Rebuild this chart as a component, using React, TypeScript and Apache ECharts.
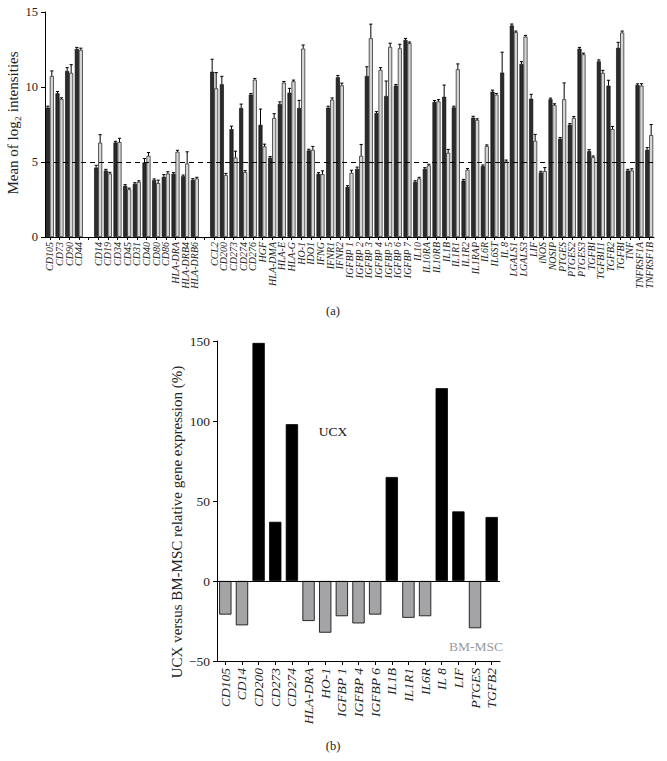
import React, { useEffect, useRef } from "react";
import * as echarts from "echarts";

// ---------- (a) data ----------
const group1 = ["CD105", "CD73", "CD90", "CD44"];
const group2 = ["CD14", "CD19", "CD34", "CD45", "CD31", "CD40", "CD80", "CD86", "HLA-DRA", "HLA-DRB4", "HLA-DRB6"];
const group3 = ["CCL2", "CD200", "CD273", "CD274", "CD276", "HGF", "HLA-DMA", "HLA-E", "HLA-G", "HO-1", "IDO1", "IFNG", "IFNR1", "IFNR2", "IGFBP 1", "IGFBP 2", "IGFBP 3", "IGFBP 4", "IGFBP 5", "IGFBP 6", "IGFBP 7", "IL10", "IL10RA", "IL10RB", "IL1B", "IL1R1", "IL1R2", "IL1RAP", "IL6R", "IL6ST", "IL 8", "LGALS1", "LGALS3", "LIF", "iNOS", "NOSIP", "PTGES", "PTGES2", "PTGES3", "TGFBI", "TGFBI11", "TGFB2", "TGFBI", "TNF", "TNFRSF1A", "TNFRSF1B"];

const darkG1 = [8.62, 9.58, 11.07, 12.54];
const darkG2 = [4.63, 4.43, 6.3, 3.41, 3.54, 4.97, 3.79, 4.01, 4.21, 4.05, 3.81];
const darkG3 = [11.02, 10.18, 7.19, 8.6, 9.49, 7.48, 5.28, 8.86, 9.62, 8.6, 5.77, 4.21, 8.62, 10.65, 3.34, 4.54, 10.73, 8.26, 9.4, 10.09, 13.14, 3.67, 4.54, 9.0, 9.35, 8.64, 3.76, 7.95, 4.72, 9.69, 10.96, 14.1, 11.54, 9.22, 4.3, 9.18, 6.55, 7.48, 12.56, 5.72, 11.71, 10.09, 12.61, 4.43, 10.13, 5.81];

const lightG1 = [10.73, 9.2, 10.94, 12.47];
const lightG2 = [6.28, 4.23, 6.33, 3.18, 3.67, 5.41, 3.59, 4.23, 5.68, 4.9, 3.9];
const lightG3 = [9.91, 4.12, 5.3, 4.32, 10.49, 6.04, 7.93, 10.29, 10.38, 12.56, 5.81, 4.19, 9.15, 10.11, 4.28, 5.41, 13.25, 11.14, 12.67, 12.58, 12.92, 3.9, 4.77, 9.04, 5.61, 11.18, 4.48, 7.8, 6.06, 9.49, 5.03, 13.65, 13.36, 6.41, 4.39, 8.8, 9.18, 7.93, 12.18, 5.32, 10.94, 7.19, 13.63, 4.43, 10.09, 6.79];

const darkErrG1 = [0.1, 0.12, 0.22, 0.1];
const darkErrG2 = [0.15, 0.08, 0.08, 0.08, 0.08, 0.26, 0.08, 0.15, 0.08, 0.08, 0.08];
const darkErrG3 = [0.83, 0.53, 0.2, 0.26, 0.08, 1.05, 0.08, 0.15, 0.29, 0.51, 0.08, 0.08, 0.1, 0.12, 0.08, 0.12, 0.62, 0.1, 1.0, 0.08, 0.1, 0.08, 0.08, 0.1, 0.78, 0.08, 0.08, 0.1, 0.08, 0.1, 1.36, 0.1, 0.15, 0.29, 0.08, 0.08, 0.08, 0.08, 0.08, 0.1, 0.1, 0.36, 0.37, 0.08, 0.08, 0.15];

const lightErrG1 = [0.34, 0.08, 0.55, 0.12];
const lightErrG2 = [0.54, 0.08, 0.25, 0.08, 0.08, 0.22, 0.2, 0.12, 0.1, 0.78, 0.08];
const lightErrG3 = [1.05, 0.12, 0.42, 0.1, 0.08, 0.15, 0.29, 0.08, 0.08, 0.24, 0.23, 0.22, 0.12, 0.15, 0.17, 0.76, 0.94, 0.15, 0.25, 0.27, 0.08, 0.08, 0.08, 0.12, 0.23, 0.36, 0.08, 0.08, 0.08, 0.08, 0.1, 0.08, 0.08, 0.43, 0.24, 0.08, 1.09, 0.1, 0.08, 0.08, 0.17, 0.18, 0.1, 0.12, 0.13, 0.71];

const yTicksA = [0, 5, 10, 15];
const thresholdA = 5;

// ---------- (b) data ----------
const genesB = ["CD105", "CD14", "CD200", "CD273", "CD274", "HLA-DRA", "HO-1", "IGFBP 1", "IGFBP 4", "IGFBP 6", "IL1B", "IL1R1", "IL6R", "IL 8", "LIF", "PTGES", "TGFB2"];
const valuesB = [-21, -27.7, 148.8, 37, 98, -25, -32.3, -22, -26.5, -21, 65, -23, -22, 120.5, 43.5, -29.5, 40];
const yTicksB = [-50, 0, 50, 100, 150];

const SERIF = '"Liberation Serif", "DejaVu Serif", "Times New Roman", serif';

function joinGroups<T>(a: T[], b: T[], c: T[], gap: T): T[] {
  return [...a, gap, ...b, gap, ...c];
}

export default function App() {
  const ref = useRef<HTMLDivElement>(null);

  useEffect(() => {
    if (!ref.current) return;
    const chart = echarts.init(ref.current, null, { renderer: "svg" });

    const catsA = joinGroups(group1, group2, group3, "");
    const dark = joinGroups<number | null>(darkG1, darkG2, darkG3, null);
    const light = joinGroups<number | null>(lightG1, lightG2, lightG3, null);
    const darkErr = joinGroups<number | null>(darkErrG1, darkErrG2, darkErrG3, null);
    const lightErr = joinGroups<number | null>(lightErrG1, lightErrG2, lightErrG3, null);

    const BAR_W = 4;

    const errSeries = (vals: (number | null)[], errs: (number | null)[], offset: number) => {
      const data: number[][] = [];
      vals.forEach((v, i) => {
        if (v != null && errs[i] != null) data.push([i, v, v + (errs[i] as number)]);
      });
      return {
        type: "custom",
        xAxisIndex: 0,
        yAxisIndex: 0,
        encode: { x: 0, y: [1, 2] },
        data,
        z: 10,
        silent: true,
        renderItem: (params: any, api: any) => {
          const x = api.value(0);
          const p0 = api.coord([x, api.value(1)]);
          const p1 = api.coord([x, api.value(2)]);
          const cx = p0[0] + offset;
          return {
            type: "group",
            children: [
              { type: "line", shape: { x1: cx, y1: p0[1], x2: cx, y2: p1[1] }, style: { stroke: "#000", lineWidth: 1 } },
              { type: "line", shape: { x1: cx - 1.6, y1: p1[1], x2: cx + 1.6, y2: p1[1] }, style: { stroke: "#000", lineWidth: 1 } },
            ],
          };
        },
      };
    };

    const option: any = {
      animation: false,
      backgroundColor: "#fff",
      grid: [
        { left: 45, top: 12, width: 609, height: 225, containLabel: false },
        { left: 217, top: 341, width: 283, height: 320, containLabel: false },
      ],
      xAxis: [
        {
          type: "category",
          gridIndex: 0,
          data: catsA,
          axisLine: { show: true, lineStyle: { color: "#000", width: 1 } },
          axisTick: { show: true, alignWithLabel: true, length: 3, lineStyle: { color: "#000" } },
          axisLabel: {
            interval: 0,
            rotate: 90,
            margin: 5,
            fontSize: 10,
            fontStyle: "italic",
            fontFamily: SERIF,
            color: "#222",
          },
          splitLine: { show: false },
        },
        {
          type: "category",
          gridIndex: 1,
          data: genesB,
          axisLine: { show: true, onZero: false, lineStyle: { color: "#000", width: 1 } },
          axisTick: { show: true, alignWithLabel: true, length: 4, lineStyle: { color: "#000" } },
          axisLabel: {
            interval: 0,
            rotate: 90,
            margin: 7,
            fontSize: 13.5,
            fontStyle: "italic",
            fontFamily: SERIF,
            color: "#222",
          },
          splitLine: { show: false },
        },
      ],
      yAxis: [
        {
          type: "value",
          gridIndex: 0,
          min: yTicksA[0],
          max: yTicksA[yTicksA.length - 1],
          interval: yTicksA[1] - yTicksA[0],
          axisLine: { show: true, lineStyle: { color: "#000", width: 1 } },
          axisTick: { show: true, length: 4, lineStyle: { color: "#000" } },
          axisLabel: { fontSize: 12.5, fontFamily: SERIF, color: "#222", margin: 7 },
          splitLine: { show: false },
        },
        {
          type: "value",
          gridIndex: 1,
          min: yTicksB[0],
          max: yTicksB[yTicksB.length - 1],
          interval: yTicksB[1] - yTicksB[0],
          axisLine: { show: true, onZero: false, lineStyle: { color: "#000", width: 1 } },
          axisTick: { show: true, length: 4, lineStyle: { color: "#000" } },
          axisLabel: {
            fontSize: 13.5,
            fontFamily: SERIF,
            color: "#222",
            margin: 7,
            formatter: (v: number) => String(v).replace("-", "\u2212"),
          },
          splitLine: { show: false },
        },
      ],
      series: [
        {
          name: "UCX",
          type: "bar",
          xAxisIndex: 0,
          yAxisIndex: 0,
          data: dark,
          barWidth: BAR_W,
          barGap: "0%",
          itemStyle: { color: "#2b2b2b", borderColor: "#000", borderWidth: 0.6 },
          markLine: {
            silent: true,
            symbol: "none",
            label: { show: false },
            lineStyle: { color: "#000", type: [5, 4], width: 1 },
            data: [{ yAxis: thresholdA }],
          },
        },
        {
          name: "BM-MSC",
          type: "bar",
          xAxisIndex: 0,
          yAxisIndex: 0,
          data: light,
          barWidth: BAR_W,
          barGap: "0%",
          itemStyle: { color: "#d6d6d6", borderColor: "#1a1a1a", borderWidth: 0.7 },
        },
        errSeries(dark, darkErr, -BAR_W / 2),
        errSeries(light, lightErr, BAR_W / 2),
        {
          type: "bar",
          xAxisIndex: 1,
          yAxisIndex: 1,
          data: valuesB,
          barWidth: 12.3,
          itemStyle: {
            color: (p: any) => (p.value >= 0 ? "#000" : "#a4a4a6"),
            borderColor: "#000",
            borderWidth: 0.8,
          },
          markLine: {
            silent: true,
            symbol: "none",
            label: { show: false },
            lineStyle: { color: "#000", type: "solid", width: 1 },
            data: [{ yAxis: 0 }],
          },
        },
      ],
      graphic: [
        {
          type: "text",
          x: 13,
          y: 123,
          rotation: Math.PI / 2,
          style: {
            text: "Mean of log\u2082 intensities",
            fontSize: 15,
            fontFamily: SERIF,
            fill: "#222",
            textAlign: "center",
            textVerticalAlign: "middle",
          },
        },
        {
          type: "text",
          x: 177,
          y: 522,
          rotation: Math.PI / 2,
          style: {
            text: "UCX versus BM-MSC relative gene expression (%)",
            fontSize: 15,
            fontFamily: SERIF,
            fill: "#222",
            textAlign: "center",
            textVerticalAlign: "middle",
          },
        },
        {
          type: "text",
          x: 333,
          y: 431,
          style: { text: "UCX", fontSize: 13.5, fontFamily: SERIF, fill: "#111", textAlign: "center", textVerticalAlign: "middle" },
        },
        {
          type: "text",
          x: 476,
          y: 646,
          style: { text: "BM-MSC", fontSize: 13.5, fontFamily: SERIF, fill: "#9a9a9a", textAlign: "center", textVerticalAlign: "middle" },
        },
        {
          type: "text",
          x: 333,
          y: 311,
          style: { text: "(a)", fontSize: 12.5, fontFamily: SERIF, fill: "#222", textAlign: "center", textVerticalAlign: "middle" },
        },
        {
          type: "text",
          x: 333,
          y: 746,
          style: { text: "(b)", fontSize: 12.5, fontFamily: SERIF, fill: "#222", textAlign: "center", textVerticalAlign: "middle" },
        },
      ],
    };

    chart.setOption(option);
    return () => chart.dispose();
  }, []);

  return (
    <div
      ref={ref}
      style={{ position: "fixed", left: 0, top: 0, width: 667, height: 761, background: "#fff" }}
    />
  );
}
